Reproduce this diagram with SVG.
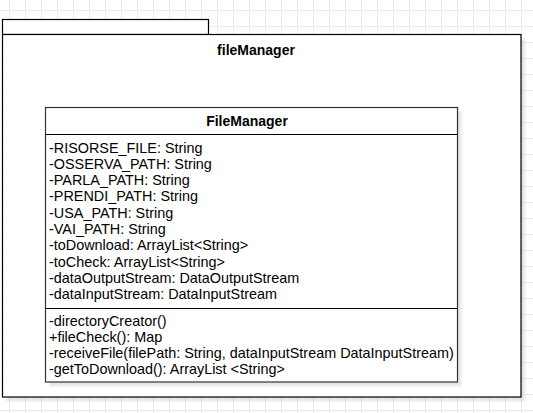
<svg xmlns="http://www.w3.org/2000/svg" width="533" height="413" viewBox="0 0 533 413">
  <style>
    .ln { fill: none; stroke: #000; stroke-width: 1.2; }
    .box { fill: #fff; stroke: #000; stroke-width: 1.2; }
    .cbox { fill: #fff; stroke: #333; stroke-width: 1.2; }
    .sh { fill: #000; opacity: 0.1; }
    .title { font-family: "Liberation Sans", Arial, sans-serif; font-size: 14px; font-weight: bold; fill: #000; text-anchor: middle; }
    .mem { font-family: "Liberation Sans", Arial, sans-serif; font-size: 14.4px; fill: #000; }
  </style>
  <defs>
    <pattern id="grid" width="16" height="16" patternUnits="userSpaceOnUse" x="9" y="10">
      <path d="M0.5 0V16M0 0.5H16" fill="none" stroke="#ececec" stroke-width="1"/>
    </pattern>
    <filter id="blur" x="-5%" y="-5%" width="110%" height="110%">
      <feGaussianBlur stdDeviation="1.5"/>
    </filter>
  </defs>

  <rect x="0" y="0" width="533" height="413" fill="#fff"/>
  <rect x="0" y="0" width="533" height="413" fill="url(#grid)"/>

  <g id="fileManager-package">
    <rect class="sh" x="6" y="38" width="519" height="363" filter="url(#blur)"/>
    <rect class="box" x="2.5" y="19.5" width="206" height="15"/>
    <rect class="box" x="2.5" y="34.5" width="518.5" height="362.5"/>
    <text class="title" x="256" y="55">fileManager</text>
  </g>

  <g id="FileManager">
    <rect class="sh" x="49.5" y="111.5" width="412" height="274.5" filter="url(#blur)"/>
    <rect class="cbox" x="45.5" y="107.5" width="412" height="274.5"/>
    <line class="ln" x1="45.5" y1="134.5" x2="457.5" y2="134.5"/>
    <line class="ln" x1="45.5" y1="308.5" x2="457.5" y2="308.5"/>
    <text class="title" x="247" y="126">FileManager</text>
    <text class="mem" x="49" y="152.5">-RISORSE_FILE: String</text>
    <text class="mem" x="49" y="168.8">-OSSERVA_PATH: String</text>
    <text class="mem" x="49" y="185.1">-PARLA_PATH: String</text>
    <text class="mem" x="49" y="201.4">-PRENDI_PATH: String</text>
    <text class="mem" x="49" y="217.7">-USA_PATH: String</text>
    <text class="mem" x="49" y="234">-VAI_PATH: String</text>
    <text class="mem" x="49" y="250.3">-toDownload: ArrayList&lt;String&gt;</text>
    <text class="mem" x="49" y="266.6">-toCheck: ArrayList&lt;String&gt;</text>
    <text class="mem" x="49" y="282.9">-dataOutputStream: DataOutputStream</text>
    <text class="mem" x="49" y="299.2">-dataInputStream: DataInputStream</text>
    <text class="mem" x="49" y="325.5">-directoryCreator()</text>
    <text class="mem" x="49" y="341.5">+fileCheck(): Map</text>
    <text class="mem" x="49" y="357.5">-receiveFile(filePath: String, dataInputStream DataInputStream)</text>
    <text class="mem" x="49" y="373.5">-getToDownload(): ArrayList &lt;String&gt;</text>
  </g>

  <g id="connectors"/>
</svg>
